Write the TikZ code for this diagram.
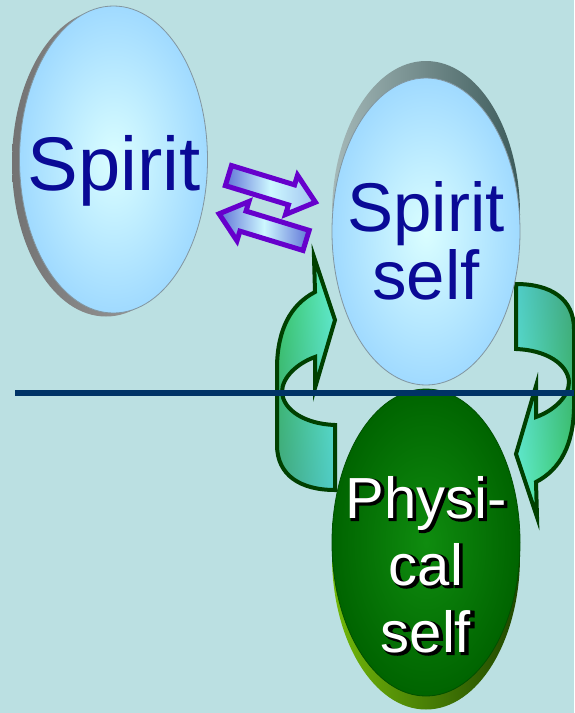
\documentclass[tikz,border=0pt]{standalone}
\usepackage{fontspec}
\setmainfont{Liberation Sans}
\newfontfamily\glowfont[FakeBold=5]{Liberation Sans}
\usetikzlibrary{shapes.geometric, shadings}
\definecolor{cBg}{RGB}{187,224,226}
\definecolor{cNavy}{RGB}{0,51,102}
\definecolor{cInk}{RGB}{10,10,150}
\definecolor{cPurple}{RGB}{102,0,204}
\definecolor{cDeep}{RGB}{0,64,0}
\definecolor{cSkyIn}{RGB}{218,254,255}
\definecolor{cSkyOut}{RGB}{160,218,255}
\definecolor{cEdge}{RGB}{130,150,160}
\definecolor{cLeafA}{RGB}{55,205,100}
\definecolor{cLeafB}{RGB}{100,240,205}
\definecolor{cTealA}{RGB}{65,165,125}
\definecolor{cTealB}{RGB}{80,205,200}
\definecolor{cSwapDark}{RGB}{95,115,215}
\definecolor{cSwapLight}{RGB}{205,248,255}
\tikzset{
	disc/.style    ={ellipse, minimum width=188, minimum height=307, inner sep=0pt, outer sep=0pt},
	skyface/.style ={disc, draw=cEdge, line width=0.8pt, inner color=cSkyIn, outer color=cSkyOut},
	swap/.style    ={draw=cPurple, line width=5pt, line join=miter},
	loop/.style    ={draw=cDeep, line width=4pt, line join=miter},
	bluetext/.style={text=cInk, align=center, inner sep=0pt},
	phystext/.style={align=center, inner sep=0pt, font=\fontsize{58}{67}\selectfont},
}
\begin{document}
\begin{tikzpicture}[x=1pt, y=-1pt]
	\fill[cBg] (0,0) rectangle (574,713);
	\useasboundingbox (0,0) rectangle (574,713);
	% two way arrows
	\begin{scope}[shift={(226.5,175)}, rotate=-17]
		\shadedraw[swap, left color=cSwapDark, right color=cSwapDark!40!cSwapLight, middle color=cSwapLight]
			(2,-10.5) -- (68,-10.5) -- (68,-20.5) -- (93,0) -- (68,20.5) -- (68,10.5) -- (2,10.5) -- cycle;
	\end{scope}
	\begin{scope}[shift={(308,241)}, rotate=163]
		\shadedraw[swap, left color=cSwapDark, right color=cSwapDark, middle color=cSwapLight]
			(2,-10.5) -- (68,-10.5) -- (68,-20.5) -- (93,0) -- (68,20.5) -- (68,10.5) -- (2,10.5) -- cycle;
	\end{scope}
	% cycle arrows
	\shadedraw[loop, upper left=cLeafA, upper right=cLeafB, lower left=cTealA, lower right=cTealB]
		(335,490) .. controls (300,490) and (277,475) .. (277,445) -- (277,365)
		.. controls (278,330) and (290,305) .. (315,292) -- (314,257) -- (335,320) -- (315,388) -- (315,357)
		.. controls (298,363) and (282,377) .. (282,392) .. controls (283,410) and (305,424) .. (335,425) -- cycle;
	\begin{scope}[rotate around={180:(425.5,387)}]
		\shadedraw[loop, upper left=cTealB, upper right=cTealA, lower left=cLeafB, lower right=cLeafA]
			(335,490) .. controls (300,490) and (277,475) .. (277,445) -- (277,365)
			.. controls (278,330) and (290,305) .. (315,292) -- (314,257) -- (335,320) -- (315,388) -- (315,357)
			.. controls (298,363) and (282,377) .. (282,392) .. controls (283,410) and (305,424) .. (335,425) -- cycle;
	\end{scope}
	% discs
	\node[disc, left color=black!55, right color=black!35] (spiritrim) at (106,163) {};
	\node[skyface] (spirit) at (113.5,159.5) {};
	\node[bluetext, anchor=base, font=\fontsize{76}{80}\selectfont] (spiritlbl) at (114,190) {Spirit};
	\node[disc, left color={rgb,255:red,165;green,185;blue,185}, right color={rgb,255:red,60;green,90;blue,90}] (selfrim) at (426,214.5) {};
	\node[skyface] (spiritself) at (426,231.5) {};
	\node[bluetext, font=\fontsize{69}{68}\selectfont] (spiritselflbl) at (426,241) {Spirit\\self};
	\node[disc, left color={rgb,255:red,115;green,185;blue,10}, right color={rgb,255:red,30;green,70;blue,0}] (physrim) at (426,556) {};
	\node[disc, draw={rgb,255:red,0;green,80;blue,0}, line width=0.8pt, inner color={rgb,255:red,15;green,140;blue,15}, outer color={rgb,255:red,0;green,100;blue,0}] (physical) at (426,542.5) {};
	\node[phystext, text=black, font=\glowfont\fontsize{58}{67}\selectfont] (physglow) at (428,566) {Physi-\\cal\\self};
	\node[phystext, text=white] (physlbl) at (426,564.5) {Physi-\\cal\\self};
	% divider
	\coordinate (rulestart) at (15,393);
	\coordinate (ruleend) at (574,393);
	\draw[cNavy, line width=6pt] (rulestart) -- (ruleend);
\end{tikzpicture}
\end{document}
